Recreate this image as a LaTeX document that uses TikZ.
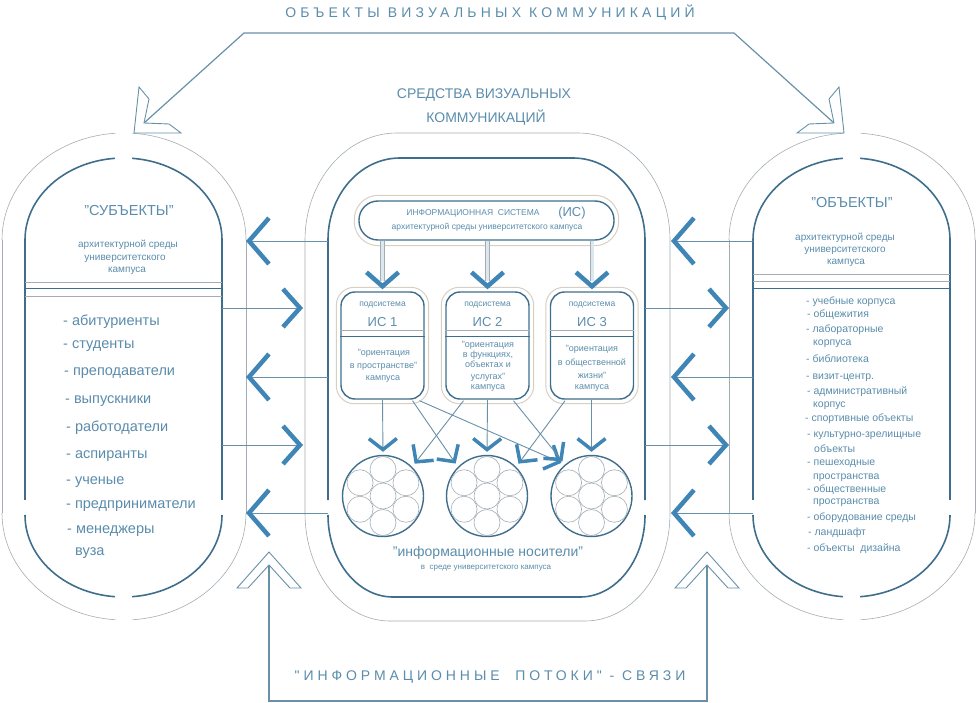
\documentclass[tikz,border=0pt]{standalone}
\usepackage{fontspec}
\setmainfont{Liberation Sans}
\newfontfamily\spacedA[LetterSpace=30]{Liberation Sans}
\newfontfamily\spacedB[LetterSpace=28]{Liberation Sans}
\usetikzlibrary{arrows.meta,calc}
\definecolor{darkc}{HTML}{3F6E8C}
\definecolor{greyc}{HTML}{A3ADB3}
\definecolor{connc}{HTML}{6890A8}
\definecolor{chevc}{HTML}{3F86B6}
\definecolor{txtc}{HTML}{5A8CAB}
\definecolor{palec}{HTML}{D6D0C4}
\definecolor{dblin}{HTML}{DCE8F0}
\newcommand{\fsz}[1]{\fontsize{#1}{#1}\selectfont}
% #1 style, #2 cx, #3 rx, #4 ry, #5 y top-centre, #6 side end, #7 y bottom-centre, #8 gap angle
\newcommand{\pshape}[8]{%
 \draw[#1] ({#2-#3},#5) arc[start angle=180,end angle={270-#8},x radius=#3,y radius=#4];
 \draw[#1] ({#2+#3},#5) arc[start angle=0,end angle={-90+#8},x radius=#3,y radius=#4];
 \draw[#1] ({#2-#3},#5) -- ({#2-#3},#6);
 \draw[#1] ({#2+#3},#5) -- ({#2+#3},#6);
 \draw[#1] ({#2-#3},#7) arc[start angle=180,end angle={90+#8},x radius=#3,y radius=#4];
 \draw[#1] ({#2+#3},#7) arc[start angle=0,end angle={90-#8},x radius=#3,y radius=#4];
}
\begin{document}
\begin{tikzpicture}[x=1pt,y=-1pt,
 dk/.style={draw=darkc,line width=1.6pt},
 gr/.style={draw=greyc,line width=0.6pt},
 conn/.style={draw=connc,line width=0.9pt},
 chev/.style={draw=chevc,line width=4.5pt,line join=miter},
 bigL/.style={conn,-{Straight Barb[length=20pt,width=46pt,line width=4.5pt,color=chevc]}},
 smallR/.style={conn,-{Straight Barb[length=17pt,width=38pt,line width=4.5pt,color=chevc]}},
 vtip/.style={conn,-{Straight Barb[length=11pt,width=28pt,line width=3.5pt,color=chevc]}},
 dtip/.style={conn,-{Straight Barb[length=12pt,width=26pt,line width=3.5pt,color=chevc]}},
 hollow/.style={draw=connc,line width=0.9pt,fill=white,line join=miter},
 topc/.style={draw=connc,line width=1.2pt},
 pale/.style={draw=palec,line width=1pt},
 dbl/.style={draw=greyc,line width=0.6pt,double=dblin,double distance=3pt},
 txt/.style={inner sep=0pt,text=txtc},
 tc/.style={txt,anchor=base,yshift=-#1},
 tw/.style={txt,anchor=base west,yshift=-#1},
 subbox/.style={draw=darkc,line width=1.4pt,rounded corners=14pt,minimum width=83pt,minimum height=107pt,inner sep=0pt},
 isbox/.style={draw=darkc,line width=1.4pt,rounded corners=19pt,minimum width=255pt,minimum height=39pt,inner sep=0pt},
 carrier/.style={circle,draw=darkc,line width=1.4pt,minimum size=81pt,inner sep=0pt},
]
\useasboundingbox (0,0) rectangle (976,703);

% ---------- panels ----------
\pshape{dk}{123.5}{98.5}{82}{240}{500}{515}{5}
\pshape{gr}{124}{122}{107}{240}{513}{513}{4}
\pshape{dk}{851.5}{98.5}{82}{240}{500}{515}{5}
\pshape{gr}{852}{123}{107}{240}{513}{513}{4}

\draw[dk] (328,500) -- (328,240) arc[start angle=180,end angle=270,x radius=72,y radius=82]
  -- (573,158) arc[start angle=270,end angle=360,x radius=72,y radius=82] -- (645,500);
\draw[dk] (328,515) arc[start angle=180,end angle=90,x radius=65,y radius=82]
  -- (580,597) arc[start angle=90,end angle=0,x radius=65,y radius=82];
\draw[gr] (305,513) -- (305,240) arc[start angle=180,end angle=270,x radius=92,y radius=107]
  -- (578,133) arc[start angle=270,end angle=360,x radius=92,y radius=107]
  -- (670,513) arc[start angle=0,end angle=90,x radius=85,y radius=108]
  -- (390,621) arc[start angle=90,end angle=180,x radius=85,y radius=108] -- cycle;

% separator lines
\draw[gr] (25,282) -- (222,282);
\draw[dk,line width=1pt] (25,288) -- (222,288);
\draw[gr] (25,296) -- (222,296);
\draw[gr] (753,274) -- (950,274);
\draw[gr] (753,281) -- (950,281);
\draw[dk,line width=1pt] (753,288) -- (950,288);

% ---------- top connector ----------
\coordinate (tl) at (244,33);
\coordinate (tr) at (734,33);
\coordinate (hl) at (144,123);
\coordinate (hr) at (834,123);
\draw[topc] (hl) -- (tl) -- (tr) -- (hr);
\draw[hollow] (139,87) -- (149,99) -- (hl) -- (169,124) -- (181,133) -- (134,133) -- cycle;
\draw[hollow] (839,87) -- (829,99) -- (hr) -- (809,124) -- (797,133) -- (844,133) -- cycle;

% ---------- bottom connector ----------
\coordinate (bl) at (269,565);
\coordinate (br) at (707,565);
\draw[conn,line width=1.2pt] (bl) -- (269,701) -- (707,701) -- (br);
\draw[hollow] (269,552) -- (301,588) -- (290,588) -- (bl) -- (248,588) -- (237,588) -- cycle;
\draw[hollow] (707,552) -- (739,588) -- (728,588) -- (br) -- (686,588) -- (675,588) -- cycle;

% ---------- horizontal flows ----------
\foreach \y in {241,377,513}{
  \coordinate (ls\y) at (328,\y); \coordinate (le\y) at (246,\y);
  \draw[bigL] (ls\y) -- (le\y);
  \coordinate (rs\y) at (753,\y); \coordinate (re\y) at (671,\y);
  \draw[bigL] (rs\y) -- (re\y);
}
\foreach \y in {308,445}{
  \coordinate (lrs\y) at (222,\y); \coordinate (lre\y) at (303,\y);
  \draw[smallR] (lrs\y) -- (lre\y);
  \coordinate (rrs\y) at (645,\y); \coordinate (rre\y) at (729,\y);
  \draw[smallR] (rrs\y) -- (rre\y);
}

% ---------- information system ----------
\node[isbox] (is) at (486.5,220.5) {};
\draw[pale,rounded corners=24pt] ($(is.north west)+(-4,-5)$) rectangle ($(is.south east)+(4,5)$);
\node[tc=3pt,font=\fsz{8.5}] (ist1) at (473,213) {ИНФОРМАЦИОННАЯ\ \ СИСТЕМА};
\node[tc=4.7pt,font=\fsz{13}] (ist2) at (572,212) {(ИС)};
\node[tc=2.2pt,font=\fsz{8.5}] (ist3) at (487,227) {архитектурной среды университетского кампуса};

\node[subbox] (b1) at (382.5,345.5) {};
\node[subbox] (b2) at (487.5,345.5) {};
\node[subbox] (b3) at (592,345.5) {};
\foreach \b in {b1,b2,b3}{
  \draw[pale,rounded corners=18pt] ($(\b.north west)+(-4,-4)$) rectangle ($(\b.south east)+(4,4)$);
  \draw[gr] ($(\b.west)+(0,-15.5)$) -- ($(\b.east)+(0,-15.5)$);
  \draw[dk,line width=1pt] ($(\b.west)+(0,-9.5)$) -- ($(\b.east)+(0,-9.5)$);
  \draw[dbl] (is.south -| \b.north) -- ($(\b.north)+(0,-10)$);
  \draw[chev] ($(\b.north)+(-16,-19)$) -- ($(\b.north)+(0,-5)$) -- ($(\b.north)+(16,-19)$);
  \node[tc=2.2pt,font=\fsz{8.5}] (\b p) at ($(\b.north)+(0,13)$) {подсистема};
}
\node[tc=4.7pt,font=\fsz{13}] (b1n) at (382.5,322) {ИС 1};
\node[tc=4.7pt,font=\fsz{13}] (b2n) at (487.5,322) {ИС 2};
\node[tc=4.7pt,font=\fsz{13}] (b3n) at (592,322) {ИС 3};

\node[tc=2.3pt,font=\fsz{9}] (b1a) at (384,353) {"ориентация};
\node[tc=2.3pt,font=\fsz{9}] (b1b) at (383.5,366) {в пространстве"};
\node[tc=2.3pt,font=\fsz{9}] (b1c) at (383,378) {кампуса};

\node[tc=2.3pt,font=\fsz{9}] (b2a) at (488,345) {"ориентация};
\node[tc=2.3pt,font=\fsz{9}] (b2b) at (488,355) {в функциях,};
\node[tc=2.3pt,font=\fsz{9}] (b2c) at (488,365) {объектах и};
\node[tc=2.3pt,font=\fsz{9}] (b2d) at (488,377) {услугах"};
\node[tc=2.3pt,font=\fsz{9}] (b2e) at (488,387) {кампуса};

\node[tc=2.3pt,font=\fsz{9}] (b3a) at (592,349) {"ориентация};
\node[tc=2.3pt,font=\fsz{9}] (b3b) at (592,363) {в общественной};
\node[tc=2.3pt,font=\fsz{9}] (b3c) at (592,376) {жизни"};
\node[tc=2.3pt,font=\fsz{9}] (b3d) at (592,387) {кампуса};

% ---------- carriers ----------
\node[carrier] (c1) at (383,496) {};
\node[carrier] (c2) at (487,496) {};
\node[carrier] (c3) at (591.5,496) {};
\foreach \c in {c1,c2,c3}{
  \draw[gr] (\c) circle[radius=13];
  \foreach \a in {30,90,150,210,270,330}
    \draw[gr] ($(\c)+(\a:26.5)$) circle[radius=13];
}
\draw[vtip,shorten >=3pt] (b1.south) -- (c1.north);
\draw[vtip,shorten >=3pt] (b2.south) -- (c2.north);
\draw[vtip,shorten >=3pt] (b3.south -| c3.north) -- (c3.north);
\draw[dtip,shorten >=4pt] ($(b1.south)+(30,1)$) -- (c2.135);
\draw[dtip,shorten >=4pt] ($(b1.south)+(37,1)$) -- (c3.130);
\draw[dtip,shorten >=4pt] ($(b2.south)+(-24,1)$) -- (c1.45);
\draw[dtip,shorten >=4pt] ($(b2.south)+(26,1)$) -- (c3.130);
\draw[dtip,shorten >=4pt] ($(b3.south)+(-27,1)$) -- (c2.45);

\node[tc=3.6pt,font=\fsz{14}] (inf1) at (488,553) {"информационные носители"};
\node[tc=2.1pt,font=\fsz{8}] (inf2) at (486,567) {в\ \ среде университетского кампуса};

% ---------- titles ----------
\node[tc=5pt,font=\spacedA\fsz{14}] (title) at (490,13) {ОБЪЕКТЫ ВИЗУАЛЬНЫХ КОММУНИКАЦИЙ};
\node[tc=5pt,font=\fsz{14}] (sr1) at (484,94) {СРЕДСТВА ВИЗУАЛЬНЫХ};
\node[tc=5pt,font=\fsz{14}] (sr2) at (486,118) {КОММУНИКАЦИЙ};
\node[tc=5pt,font=\spacedB\fsz{14}] (flows) at (490,675) {"ИНФОРМАЦИОННЫЕ\ \ ПОТОКИ" - СВЯЗИ};

% ---------- left panel texts ----------
\node[tc=5.2pt,font=\fsz{14.5}] (subj) at (129,210) {"СУБЪЕКТЫ"};
\node[tc=2.6pt,font=\fsz{10}] (sl1) at (128,245) {архитектурной среды};
\node[tc=2.6pt,font=\fsz{10}] (sl2) at (125,258) {университетского};
\node[tc=2.6pt,font=\fsz{10}] (sl3) at (127,270) {кампуса};
\foreach \x/\y/\s in {63/322/{- абитуриенты},63/345/{- студенты},64/372/{- преподаватели},
  65/400/{- выпускники},66/428/{- работодатели},66/455/{- аспиранты},66/481/{- ученые},
  66/505/{- предприниматели},67/530/{- менеджеры},75/552/{вуза}}
  \node[tw=3.8pt,font=\fsz{14.5}] (L\y) at (\x,\y) {\s};

% ---------- right panel texts ----------
\node[tc=5.2pt,font=\fsz{14.5}] (obj) at (852,202) {"ОБЪЕКТЫ"};
\node[tc=2.6pt,font=\fsz{10}] (sr3) at (845,238) {архитектурной среды};
\node[tc=2.6pt,font=\fsz{10}] (sr4) at (845,250) {университетского};
\node[tc=2.6pt,font=\fsz{10}] (sr5) at (846,262) {кампуса};
\foreach \x/\y/\s in {806/302/{- учебные корпуса},807/315/{- общежития},806/330/{- лабораторные},
  813/343/{корпуса},806/360/{- библиотека},806/377/{- визит-центр.},807/392/{- административный},
  813/405/{корпус},805/419/{- спортивные объекты},807/435/{- культурно-зрелищные},
  814/450/{объекты},807/463/{- пешеходные},813/477/{пространства},807/490/{- общественные},
  813/502/{пространства},807/518/{- оборудование среды},808/533/{- ландшафт},
  807/549/{- объекты\ \ дизайна}}
  \node[tw=2.7pt,font=\fsz{10.5}] (R\y) at (\x,\y) {\s};
\end{tikzpicture}
\end{document}
